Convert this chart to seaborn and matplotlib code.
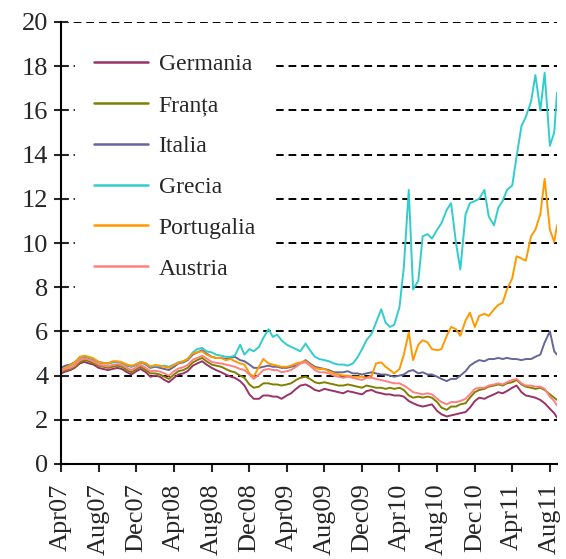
import pandas as pd
import seaborn as sns
import matplotlib.pyplot as plt

# 10-year government bond yields, semi-monthly readings (1st and 15th), Apr 2007 - Aug 2011,
# plus one last reading on 24 Aug 2011
countries = ["Germania", "Franța", "Italia", "Grecia", "Portugalia", "Austria"]
colors = ["#993366", "#808000", "#666699", "#33CCCC", "#FF9900", "#FF8080"]

germania = [
    4.10, 4.18, 4.25, 4.35, 4.55, 4.62, 4.55, 4.50, 4.35, 4.30, 4.25, 4.30, 4.35, 4.30, 4.15, 4.05, 4.20, 4.30,
    4.15, 3.95, 4.00, 3.95, 3.80, 3.70, 3.90, 4.05, 4.10, 4.20, 4.45, 4.55, 4.65, 4.50, 4.35, 4.25, 4.15, 4.05,
    3.95, 3.90, 3.75, 3.55, 3.15, 2.95,
    2.95, 3.10, 3.10, 3.05, 3.05, 2.95, 3.10, 3.20, 3.40, 3.55, 3.60, 3.50, 3.35, 3.30, 3.40, 3.35, 3.30, 3.25,
    3.20, 3.30, 3.25, 3.20, 3.15, 3.30,
    3.35, 3.25, 3.20, 3.15, 3.15, 3.10, 3.10, 3.05, 2.85, 2.75, 2.65, 2.60, 2.65, 2.70, 2.40, 2.25, 2.15, 2.20,
    2.25, 2.30, 2.35, 2.55, 2.85, 3.00,
    2.95, 3.05, 3.15, 3.25, 3.20, 3.30, 3.45, 3.55, 3.25, 3.10, 3.05, 3.00, 2.90, 2.75, 2.50, 2.30, 2.10,
]
franta = [
    4.15, 4.25, 4.30, 4.40, 4.60, 4.70, 4.65, 4.55, 4.45, 4.40, 4.35, 4.40, 4.45, 4.40, 4.25, 4.15, 4.30, 4.40,
    4.25, 4.10, 4.10, 4.05, 3.95, 3.85, 4.05, 4.20, 4.25, 4.35, 4.60, 4.70, 4.80, 4.65, 4.50, 4.45, 4.40, 4.30,
    4.20, 4.15, 4.00, 3.90, 3.60, 3.45,
    3.50, 3.65, 3.65, 3.60, 3.60, 3.55, 3.60, 3.65, 3.80, 3.90, 3.95, 3.85, 3.70, 3.65, 3.70, 3.65, 3.60, 3.55,
    3.55, 3.60, 3.55, 3.50, 3.45, 3.55,
    3.50, 3.45, 3.45, 3.40, 3.45, 3.40, 3.45, 3.35, 3.10, 3.00, 3.05, 3.00, 3.05, 3.00, 2.80, 2.55, 2.45, 2.60,
    2.60, 2.70, 2.75, 3.00, 3.25, 3.35,
    3.40, 3.50, 3.55, 3.60, 3.55, 3.65, 3.70, 3.80, 3.60, 3.50, 3.45, 3.40, 3.45, 3.35, 3.15, 3.00, 2.90,
]
italia = [
    4.35, 4.45, 4.50, 4.60, 4.80, 4.85, 4.80, 4.72, 4.60, 4.55, 4.55, 4.60, 4.62, 4.58, 4.45, 4.40, 4.48, 4.60,
    4.50, 4.35, 4.40, 4.35, 4.30, 4.25, 4.40, 4.55, 4.60, 4.70, 4.95, 5.05, 5.15, 5.00, 4.85, 4.80, 4.80, 4.75,
    4.80, 4.85, 4.70, 4.65, 4.50, 4.35,
    4.35, 4.40, 4.45, 4.40, 4.40, 4.35, 4.35, 4.40, 4.45, 4.55, 4.70, 4.55, 4.40, 4.35, 4.30, 4.25, 4.15, 4.15,
    4.15, 4.20, 4.10, 4.10, 4.05, 4.10,
    4.15, 4.10, 4.05, 4.05, 4.00, 3.95, 4.00, 4.05, 4.20, 4.25, 4.10, 4.15, 4.05, 4.05, 3.95, 3.85, 3.75, 3.85,
    3.85, 4.00, 4.20, 4.45, 4.60, 4.70,
    4.65, 4.75, 4.75, 4.80, 4.75, 4.80, 4.75, 4.75, 4.70, 4.75, 4.75, 4.85, 4.95, 5.50, 6.00, 5.10, 4.95,
]
grecia = [
    4.25, 4.35, 4.45, 4.55, 4.80, 4.88, 4.82, 4.75, 4.62, 4.58, 4.55, 4.62, 4.62, 4.58, 4.48, 4.42, 4.50, 4.62,
    4.55, 4.40, 4.45, 4.42, 4.45, 4.40, 4.50, 4.60, 4.65, 4.75, 5.05, 5.20, 5.25, 5.10, 5.05, 4.95, 4.90, 4.85,
    4.85, 4.90, 5.40, 4.95, 5.20, 5.10,
    5.30, 5.70, 6.10, 5.75, 5.85, 5.60, 5.40, 5.30, 5.20, 5.10, 5.45, 5.15, 4.85, 4.75, 4.70, 4.65, 4.55, 4.50,
    4.50, 4.45, 4.55, 4.80, 5.20, 5.60,
    5.90, 6.40, 7.00, 6.40, 6.20, 6.30, 7.10, 8.90, 12.40, 7.90, 8.30, 10.30, 10.40, 10.20, 10.60, 10.90,
    11.50, 11.80, 10.00, 8.80, 11.30, 11.80, 11.90, 12.00,
    12.40, 11.20, 10.80, 11.60, 11.90, 12.40, 12.60, 13.90, 15.30, 15.70, 16.40, 17.60, 16.00, 17.70,
    14.40, 15.00, 16.80,
]
portugalia = [
    4.25, 4.35, 4.48, 4.58, 4.85, 4.90, 4.85, 4.78, 4.62, 4.58, 4.55, 4.65, 4.65, 4.60, 4.50, 4.45, 4.52, 4.62,
    4.55, 4.42, 4.48, 4.45, 4.40, 4.35, 4.48, 4.58, 4.65, 4.75, 5.00, 5.05, 5.10, 4.95, 4.85, 4.80, 4.80, 4.70,
    4.75, 4.65, 4.55, 4.50, 4.10, 3.95,
    4.40, 4.75, 4.55, 4.50, 4.45, 4.40, 4.40, 4.45, 4.55, 4.60, 4.65, 4.50, 4.35, 4.30, 4.30, 4.20, 4.10, 4.05,
    4.00, 4.00, 3.95, 3.95, 3.95, 3.90,
    4.00, 4.55, 4.60, 4.40, 4.25, 4.10, 4.30, 4.95, 5.95, 4.70, 5.40, 5.60, 5.50, 5.20, 5.15, 5.20,
    5.80, 6.20, 6.10, 5.80, 6.50, 6.85, 6.20, 6.70,
    6.80, 6.70, 7.00, 7.20, 7.30, 7.90, 8.40, 9.40, 9.30, 9.20, 10.30, 10.60, 11.30, 12.90,
    10.60, 10.05, 10.80,
]
austria = [
    4.20, 4.30, 4.35, 4.45, 4.70, 4.78, 4.72, 4.65, 4.50, 4.45, 4.42, 4.48, 4.52, 4.48, 4.35, 4.25, 4.38, 4.48,
    4.35, 4.20, 4.22, 4.18, 4.10, 4.00, 4.20, 4.32, 4.38, 4.48, 4.72, 4.80, 4.90, 4.78, 4.62, 4.58, 4.55, 4.50,
    4.45, 4.40, 4.30, 4.25, 4.05, 3.85,
    4.05, 4.25, 4.30, 4.25, 4.25, 4.15, 4.20, 4.25, 4.40, 4.55, 4.60, 4.45, 4.25, 4.15, 4.15, 4.10, 4.00, 3.95,
    3.90, 3.95, 3.90, 3.85, 3.80, 3.90,
    3.90, 3.85, 3.80, 3.75, 3.70, 3.65, 3.65, 3.55, 3.40, 3.25, 3.20, 3.15, 3.20, 3.15, 2.95, 2.80, 2.70, 2.80,
    2.80, 2.85, 2.95, 3.15, 3.40, 3.45,
    3.45, 3.55, 3.60, 3.65, 3.60, 3.70, 3.80, 3.85, 3.65, 3.55, 3.55, 3.50, 3.50, 3.40, 3.05, 2.85, 2.65,
]

tick_labels = ["Apr07", "Aug07", "Dec07", "Apr08", "Aug08", "Dec08", "Apr09",
               "Aug09", "Dec09", "Apr10", "Aug10", "Dec10", "Apr11", "Aug11"]

dates = list(pd.date_range("2007-04-01", "2011-08-15", freq="SMS")) + [pd.Timestamp("2011-08-24")]
series = [germania, franta, italia, grecia, portugalia, austria]

frames = []
for name, vals in zip(countries, series):
    assert len(vals) == len(dates), (name, len(vals), len(dates))
    frames.append(pd.DataFrame({"date": dates, "value": vals, "country": name}))
df = pd.concat(frames, ignore_index=True)

sns.set_style("white")
plt.rcParams["font.family"] = ["Liberation Serif", "DejaVu Serif"]

fig = plt.figure(figsize=(5.66, 5.59), dpi=100)
ax = fig.add_axes([61 / 566, (559 - 464) / 559, 496 / 566, 442 / 559])

sns.lineplot(data=df, x="date", y="value", hue="country", hue_order=countries,
             palette=dict(zip(countries, colors)), linewidth=1.4, ax=ax)

ax.set_ylim(0, 20)
ax.set_yticks(range(0, 21, 2))
ax.set_xlim(pd.Timestamp("2007-04-01"), pd.Timestamp("2011-08-24"))
tick_dates = pd.date_range("2007-04-01", "2011-08-01", freq="4MS")
ax.set_xticks(tick_dates)
ax.set_xticklabels(tick_labels, rotation=90, va="top", ha="center")
ax.set_xlabel("")
ax.set_ylabel("")

ax.set_axisbelow(True)
ax.yaxis.grid(True, linestyle=(0, (4, 2.5)), linewidth=1.4, color="black")
ax.xaxis.grid(False)
for side in ["top", "right"]:
    ax.spines[side].set_visible(False)
for side in ["left", "bottom"]:
    ax.spines[side].set_color("black")
    ax.spines[side].set_linewidth(1.5)

ax.tick_params(axis="y", direction="inout", length=10, width=1.5, labelsize=19, pad=4, left=True)
ax.tick_params(axis="x", direction="out", length=6, width=1.5, labelsize=19, pad=8, bottom=True)

old = ax.get_legend()
handles = old.legend_handles
labels = [t.get_text() for t in old.texts]
for h in handles:
    h.set_linewidth(1.8)
leg = ax.legend(handles, labels, loc="upper left", bbox_to_anchor=(0.004, 0.998),
                fontsize=17, frameon=True, fancybox=False, framealpha=1,
                facecolor="white", edgecolor="white", borderpad=0.8,
                handlelength=2.3, handletextpad=0.45, labelspacing=0.82)

fig.savefig("out.png", dpi=100)
